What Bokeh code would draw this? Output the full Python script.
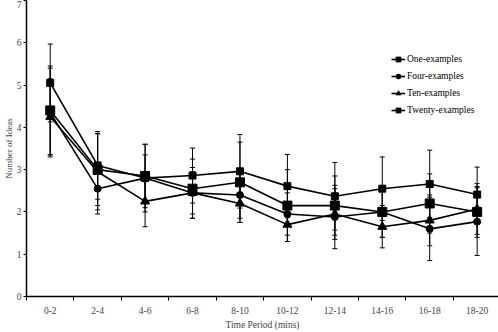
from bokeh.plotting import figure
from bokeh.models import (ColumnDataSource, Whisker, TeeHead, FixedTicker,
                          Legend, LegendItem, Range1d)
from bokeh.embed import file_html
from bokeh.resources import INLINE

periods = ["0-2", "2-4", "4-6", "6-8", "8-10", "10-12", "12-14", "14-16", "16-18", "18-20"]
y_ticks = [0, 1, 2, 3, 4, 5, 6, 7]

one_mean = [4.40, 3.00, 2.85, 2.55, 2.70, 2.15, 2.15, 2.00, 2.20, 2.00]
one_err = [1.05, 0.85, 0.75, 0.70, 0.95, 0.85, 0.70, 0.60, 0.70, 0.60]

four_mean = [4.35, 2.55, 2.80, 2.45, 2.40, 1.95, 1.88, 2.00, 1.60, 1.77]
four_err = [1.05, 0.60, 0.55, 0.50, 0.55, 0.50, 0.75, 0.60, 0.75, 0.80]

ten_mean = [4.25, 2.95, 2.25, 2.45, 2.20, 1.70, 1.95, 1.65, 1.80, 2.07]
ten_err = [0.90, 0.90, 0.60, 0.60, 0.45, 0.40, 0.60, 0.50, 0.60, 0.60]

twenty_mean = [5.05, 3.10, 2.80, 2.86, 2.96, 2.61, 2.37, 2.55, 2.66, 2.41]
twenty_err = [0.92, 0.80, 0.80, 0.65, 0.87, 0.75, 0.80, 0.75, 0.80, 0.65]

series = [
    ("One-examples", one_mean, one_err, "square", 9),
    ("Four-examples", four_mean, four_err, "circle", 7),
    ("Ten-examples", ten_mean, ten_err, "triangle", 9),
    ("Twenty-examples", twenty_mean, twenty_err, "square", 7),
]

FONT = "Liberation Serif"
n = len(periods)
xs = [i + 1 for i in range(n)]

p = figure(width=498, height=332, output_backend="svg", toolbar_location=None,
           x_range=Range1d(0.5, n + 0.45), y_range=Range1d(0, 7),
           min_border_left=22, min_border_right=0, min_border_top=0,
           min_border_bottom=0)
p.outline_line_color = None
p.xgrid.grid_line_color = None
p.ygrid.grid_line_color = None
p.background_fill_color = "white"
p.border_fill_color = "white"

items = []
for name, mean, err, marker, size in series:
    src = ColumnDataSource(dict(
        x=xs, y=mean,
        upper=[m + e for m, e in zip(mean, err)],
        lower=[m - e for m, e in zip(mean, err)],
    ))
    w = Whisker(base="x", upper="upper", lower="lower", source=src,
                line_color="black", line_width=1,
                upper_head=TeeHead(size=5, line_color="black", line_width=1),
                lower_head=TeeHead(size=5, line_color="black", line_width=1))
    p.add_layout(w)
    ln = p.line("x", "y", source=src, line_color="black", line_width=1.6)
    sc = p.scatter("x", "y", source=src, marker=marker, size=size,
                   fill_color="black", line_color="black")
    items.append(LegendItem(label=name, renderers=[ln, sc]))

legend = Legend(items=items, location=(365, 180), padding=0, margin=0,
                spacing=5, glyph_width=14, glyph_height=12, label_standoff=2,
                label_text_font=FONT, label_text_font_size="9.5px",
                label_text_color="black", border_line_color=None,
                background_fill_alpha=0)
p.add_layout(legend)

# x axis: labels at category centres, tick marks at category boundaries
xa = p.xaxis[0]
xa.ticker = FixedTicker(ticks=xs, minor_ticks=[i + 0.5 for i in range(n + 1)])
xa.major_label_overrides = {x: lab for x, lab in zip(xs, periods)}
xa.major_tick_line_color = None
xa.minor_tick_line_color = "black"
xa.minor_tick_out = 4
xa.minor_tick_in = 0
xa.axis_line_width = 1.5
xa.axis_line_color = "black"
xa.major_label_standoff = 4
xa.axis_label = "Time Period (mins)"
xa.axis_label_standoff = 3
xa.axis_label_text_font = FONT
xa.axis_label_text_font_style = "normal"
xa.axis_label_text_font_size = "9.5px"
xa.major_label_text_font = FONT
xa.major_label_text_font_size = "9.5px"

ya = p.yaxis[0]
ya.ticker = FixedTicker(ticks=y_ticks)
ya.minor_tick_line_color = None
ya.major_tick_out = 3
ya.major_tick_in = 0
ya.axis_line_width = 1.5
ya.axis_line_color = "black"
ya.major_label_standoff = 2
ya.axis_label = "Number of Ideas"
ya.axis_label_standoff = 0
ya.axis_label_text_font = FONT
ya.axis_label_text_font_style = "normal"
ya.axis_label_text_font_size = "9px"
ya.major_label_text_font = FONT
ya.major_label_text_font_size = "9.5px"

open("out.html", "w").write(file_html(p, INLINE))
